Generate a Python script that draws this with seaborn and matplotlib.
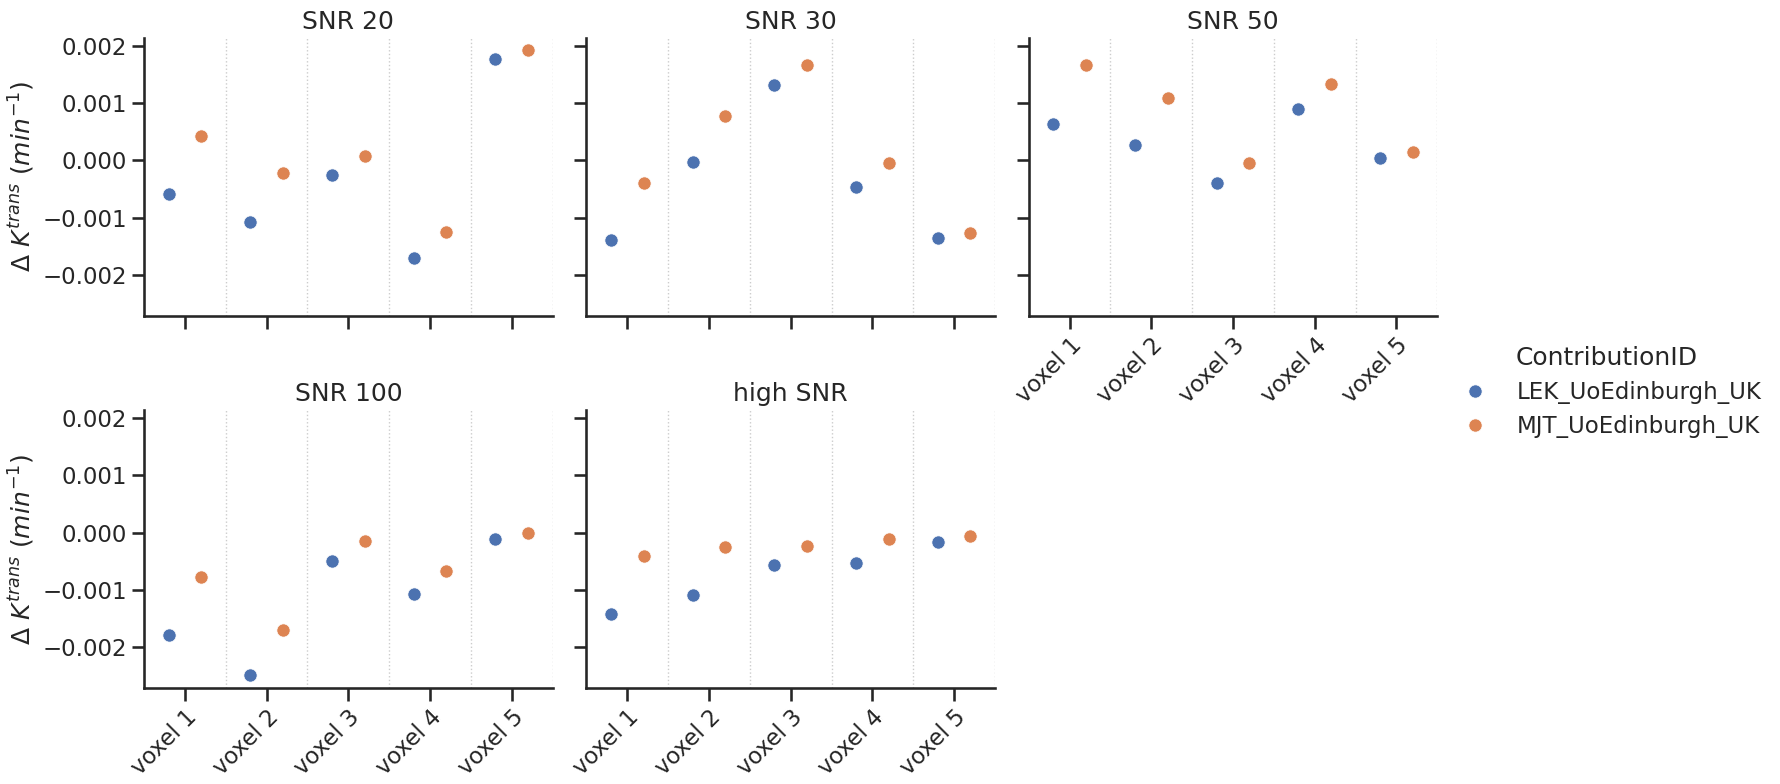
import numpy as np
import pandas as pd
import seaborn as sns
import matplotlib
matplotlib.use("Agg")
import matplotlib.pyplot as plt

voxels = ["voxel 1", "voxel 2", "voxel 3", "voxel 4", "voxel 5"]
snr_levels = ["SNR 20", "SNR 30", "SNR 50", "SNR 100", "high SNR"]
contributors = ["LEK_UoEdinburgh_UK", "MJT_UoEdinburgh_UK"]

lek_snr20 = [-0.00058, -0.00108, -0.00026, -0.00170, 0.00176]
mjt_snr20 = [0.00043, -0.000225, 0.00007, -0.00125, 0.00192]
lek_snr30 = [-0.00139, -0.000035, 0.00132, -0.00047, -0.00135]
mjt_snr30 = [-0.00040, 0.00078, 0.00166, -0.00005, -0.00127]
lek_snr50 = [0.00064, 0.00026, -0.00040, 0.00090, 0.00005]
mjt_snr50 = [0.00166, 0.00109, -0.00005, 0.00133, 0.00015]
lek_snr100 = [-0.00178, -0.00249, -0.00050, -0.00107, -0.000116]
mjt_snr100 = [-0.00077, -0.00169, -0.00015, -0.00067, -0.00001]
lek_high = [-0.00142, -0.00109, -0.00056, -0.00053, -0.00017]
mjt_high = [-0.00040, -0.00025, -0.00023, -0.00012, -0.00006]

series = {
    "SNR 20": (lek_snr20, mjt_snr20),
    "SNR 30": (lek_snr30, mjt_snr30),
    "SNR 50": (lek_snr50, mjt_snr50),
    "SNR 100": (lek_snr100, mjt_snr100),
    "high SNR": (lek_high, mjt_high),
}

rows = []
for snr in snr_levels:
    for cid, vals in zip(contributors, series[snr]):
        for vx, v in zip(voxels, vals):
            rows.append({"SNR": snr, "voxel": vx, "ContributionID": cid, "dk": v})
df = pd.DataFrame(rows)

sns.set_theme(style="ticks", context="talk")

g = sns.catplot(data=df, x="voxel", y="dk", hue="ContributionID", col="SNR",
                col_wrap=3, col_order=snr_levels, order=voxels,
                hue_order=contributors, kind="strip", dodge=True, jitter=False,
                size=9.5, linewidth=0.5, edgecolor="white",
                palette="deep", height=3.5, aspect=1.3)

g.set_titles("{col_name}")
g.set_axis_labels("", r"$\Delta\ K^{trans}\ (min^{-1})$")
for ax in g.axes.flat:
    for xv in np.arange(0.5, 5.0, 1.0):
        ax.axvline(xv, color="#cccccc", ls=":", lw=1, zorder=0)
    ax.set_xlim(-0.5, 4.5)
    for lab in ax.get_xticklabels():
        lab.set_rotation(45)
        lab.set_ha("right")
        lab.set_rotation_mode("anchor")

fig = g.figure
fig.set_size_inches(17.81, 7.84)
fig.subplots_adjust(left=0.0809, right=0.807, top=0.952, bottom=0.1224,
                    wspace=0.083, hspace=0.3375)
sns.move_legend(g, "center left", bbox_to_anchor=(0.804, 0.5))
fig.savefig("out.png", dpi=100)
